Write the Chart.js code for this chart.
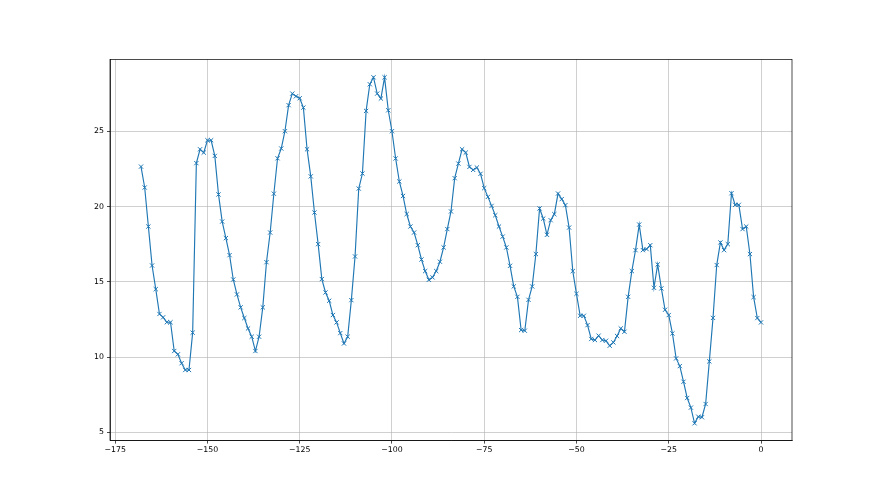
<!DOCTYPE html>
<html>
<head>
<meta charset="utf-8">
<script src="https://cdn.jsdelivr.net/npm/chart.js@4.4.1/dist/chart.umd.min.js"></script>
<style>
  html, body { margin: 0; padding: 0; background: #ffffff; }
  #wrap { width: 880px; height: 495px; position: relative; }
</style>
</head>
<body>
<div id="wrap"><canvas id="c" width="880" height="495"></canvas></div>
<script>
// x positions: -168 .. 0
const xStart = -168;
const seriesValues = [
  22.65, 21.26, 18.67, 16.08, 14.51, 12.86, 12.64, 12.31, 12.31, 10.40,
  10.18, 9.59, 9.14, 9.14, 11.62, 22.88, 23.8, 23.58, 24.4, 24.4,
  23.36, 20.80, 19.0, 17.9, 16.77, 15.15, 14.16, 13.30, 12.59, 11.90,
  11.35, 10.40, 11.35, 13.30, 16.3, 18.27, 20.85, 23.2, 23.85, 25.0,
  26.73, 27.5, 27.32, 27.19, 26.57, 23.8, 22.0, 19.6, 17.5, 15.18,
  14.29, 13.74, 12.79, 12.3, 11.59, 10.9, 11.35, 13.78, 16.68, 21.19,
  22.19, 26.35, 28.12, 28.58, 27.5, 27.17, 28.58, 26.39, 25.0, 23.19,
  21.66, 20.7, 19.5, 18.67, 18.27, 17.43, 16.48, 15.71, 15.13, 15.29,
  15.71, 16.33, 17.28, 18.5, 19.67, 21.88, 22.85, 23.8, 23.58, 22.63,
  22.43, 22.59, 22.17, 21.22, 20.64, 20.04, 19.42, 18.67, 18.0, 17.28,
  16.06, 14.69, 14.0, 11.79, 11.75, 13.8, 14.69, 16.84, 19.87, 19.2,
  18.12, 19.09, 19.49, 20.86, 20.49, 20.09, 18.6, 15.71, 14.2, 12.74,
  12.74, 12.12, 11.2, 11.13, 11.42, 11.13, 11.08, 10.75, 10.97, 11.4,
  11.9, 11.68, 14.0, 15.71, 17.1, 18.8, 17.1, 17.17, 17.43, 14.6,
  16.15, 14.56, 13.14, 12.79, 11.57, 9.91, 9.4, 8.36, 7.28, 6.64,
  5.6, 6.04, 6.0, 6.88, 9.71, 12.6, 16.11, 17.61, 17.1, 17.5,
  20.88, 20.11, 20.11, 18.5, 18.67, 16.84, 13.98, 12.59, 12.3
];
const xTickValues = [-175, -150, -125, -100, -75, -50, -25, 0];
const yTickValues = [5, 10, 15, 20, 25];

const points = seriesValues.map((v, i) => ({ x: xStart + i, y: v }));

function fmt(v) {
  return v < 0 ? '\u2212' + Math.abs(v) : String(v);
}

const framePlugin = {
  id: 'frame',
  afterDraw(chart) {
    const a = chart.chartArea;
    const ctx = chart.ctx;
    ctx.save();
    ctx.strokeStyle = '#000000';
    ctx.lineWidth = 0.7;
    ctx.strokeRect(a.left, a.top, a.right - a.left, a.bottom - a.top);
    ctx.restore();
  }
};

const font = { family: 'DejaVu Sans', size: 7.8 };

new Chart(document.getElementById('c'), {
  type: 'line',
  data: {
    datasets: [{
      data: points,
      borderColor: '#1f77b4',
      backgroundColor: '#1f77b4',
      borderWidth: 1.15,
      tension: 0,
      fill: false,
      pointStyle: 'crossRot',
      pointRadius: 3,
      pointBorderWidth: 1,
      pointBorderColor: '#1f77b4',
      pointHoverRadius: 3
    }]
  },
  options: {
    responsive: false,
    animation: false,
    events: [],
    layout: { padding: { left: 0, top: 59.4, right: 88, bottom: 0 } },
    plugins: { legend: { display: false }, tooltip: { enabled: false } },
    scales: {
      x: {
        type: 'linear',
        min: -176.4,
        max: 8.4,
        afterBuildTicks(axis) { axis.ticks = xTickValues.map(v => ({ value: v })); },
        afterFit(axis) { axis.height = 54.4; },
        ticks: { callback: fmt, color: '#000', font, padding: 2, maxRotation: 0, autoSkip: false },
        grid: { color: '#b0b0b0', lineWidth: 0.6, tickColor: '#000', tickLength: 3, tickWidth: 0.7 },
        border: { display: true, color: '#000', width: 0.7 }
      },
      y: {
        type: 'linear',
        min: 4.45,
        max: 29.77,
        afterBuildTicks(axis) { axis.ticks = yTickValues.map(v => ({ value: v })); },
        afterFit(axis) { axis.width = 110; },
        ticks: { callback: fmt, color: '#000', font, padding: 3 },
        grid: { color: '#b0b0b0', lineWidth: 0.6, tickColor: '#000', tickLength: 3, tickWidth: 0.7 },
        border: { display: true, color: '#000', width: 0.7 }
      }
    }
  },
  plugins: [framePlugin]
});
</script>
</body>
</html>
